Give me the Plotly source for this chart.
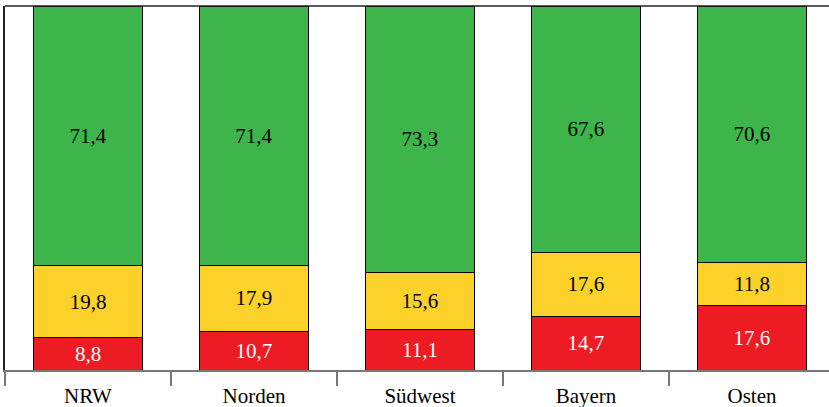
import plotly.graph_objects as go

regions = ["NRW", "Norden", "Südwest", "Bayern", "Osten"]
red_vals = [8.8, 10.7, 11.1, 14.7, 17.6]
yellow_vals = [19.8, 17.9, 15.6, 17.6, 11.8]
green_vals = [71.4, 71.4, 73.3, 67.6, 70.6]

SERIF = "Liberation Serif, Times New Roman, DejaVu Serif, serif"

series = [
    (red_vals, "#ED1C24", "white"),
    (yellow_vals, "#FCD12A", "black"),
    (green_vals, "#3DB54A", "black"),
]

fig = go.Figure()
for vals, color, txt_color in series:
    fig.add_bar(
        x=regions,
        y=vals,
        text=[f"{v:.1f}".replace(".", ",") for v in vals],
        textposition="inside",
        insidetextanchor="middle",
        textangle=0,
        textfont=dict(family=SERIF, size=21, color=txt_color),
        marker=dict(color=color, line=dict(color="black", width=1)),
        showlegend=False,
    )

fig.add_shape(
    type="line", xref="paper", yref="paper", x0=0, x1=1, y0=1, y1=1,
    line=dict(color="#222222", width=1.5),
)

fig.update_xaxes(
    range=[-0.5, 4.464],
    showline=True,
    linecolor="#777777",
    linewidth=1.5,
    ticks="outside",
    tickson="boundaries",
    ticklen=14,
    tickcolor="#777777",
    tickwidth=1.5,
    ticklabelstandoff=6,
    tickfont=dict(family=SERIF, size=21, color="black"),
    showgrid=False,
    automargin=False,
)
fig.update_yaxes(
    range=[0, 100],
    showline=True,
    linecolor="#222222",
    linewidth=1.5,
    showticklabels=False,
    showgrid=False,
    zeroline=False,
)
fig.update_layout(
    barmode="stack",
    bargap=0.34,
    width=829,
    height=407,
    margin=dict(l=5, r=0, t=6, b=37),
    font=dict(family=SERIF),
    plot_bgcolor="white",
    paper_bgcolor="white",
    uniformtext=dict(minsize=21, mode="show"),
)
fig.write_html(
    "out.html",
    config={"displayModeBar": False},
    post_script="document.body.style.margin='0';",
)
